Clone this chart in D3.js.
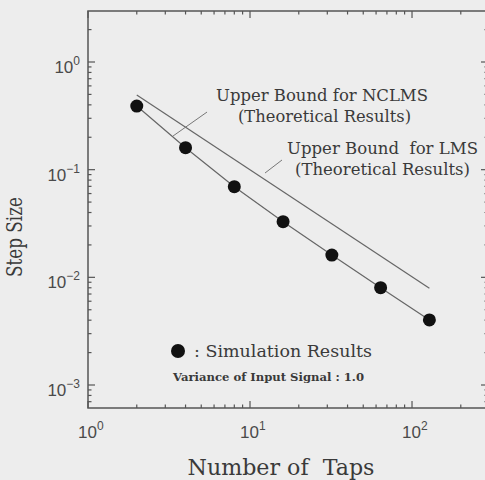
<html lang="en">
<head>
    <meta charset="UTF-8">
    <title>Step Size vs Number of Taps</title>
    <script src="https://d3js.org/d3.v7.min.js"></script>
    <style>
        body { margin: 0; background-color: #ededed; }
        svg { background-color: #ededed; display: block; }
        .serif { font-family: "DejaVu Serif", serif; fill: #3a3a3a; }
        .tick-label { font-family: "Liberation Sans", Arial, sans-serif; fill: #4a4a4a; font-size: 17px; }
    </style>
</head>
<body>
    <script>
        // simulation results
        const taps = [2, 4, 8, 16, 32, 64, 128];
        const stepSize = [0.390, 0.160, 0.0695, 0.0329, 0.0161, 0.00801, 0.00402];

        // theoretical upper bound line (straight on log-log)
        const boundTaps = [2, 128];
        const boundStep = [0.494, 0.0079];

        const xTickExp = [0, 1, 2];
        const yTickExp = [0, -1, -2, -3];

        const w = 485;
        const h = 480;

        const xScale = d3.scaleLog()
            .domain([1, Math.pow(10, 2.469)])
            .range([88, 488]);

        const yScale = d3.scaleLog()
            .domain([Math.pow(10, -3.2136), Math.pow(10, 0.4737)])
            .range([408, 11]);

        const svg = d3.select('body')
            .append('svg')
            .attr('width', w)
            .attr('height', h);

        const axisColor = '#555';

        // frame
        const [x0, x1] = xScale.range();
        const [y0, y1] = yScale.range();
        svg.append('rect')
            .attr('x', x0)
            .attr('y', y1)
            .attr('width', x1 - x0)
            .attr('height', y0 - y1)
            .attr('fill', 'none')
            .attr('stroke', axisColor)
            .attr('stroke-width', 1.5);

        // ticks (all pointing inwards)
        const xMajor = xTickExp.map(e => Math.pow(10, e));
        const xMinor = [];
        [1, 10, 100].forEach(d => d3.range(2, 10).forEach(m => { if (d * m < xScale.domain()[1]) xMinor.push(d * m); }));
        const yMajor = yTickExp.map(e => Math.pow(10, e));
        const yMinor = [];
        [0.0001, 0.001, 0.01, 0.1, 1].forEach(d => d3.range(2, 10).forEach(m => {
            const v = d * m;
            if (v > yScale.domain()[0] && v < yScale.domain()[1]) yMinor.push(v);
        }));

        const ticks = svg.append('g').attr('stroke', axisColor).attr('stroke-width', 1.2);
        [[xMajor, 7], [xMinor, 3.5]].forEach(([vals, len]) => {
            vals.forEach(v => {
                const x = xScale(v);
                ticks.append('line').attr('x1', x).attr('x2', x).attr('y1', y0).attr('y2', y0 - len);
                ticks.append('line').attr('x1', x).attr('x2', x).attr('y1', y1).attr('y2', y1 + len);
            });
        });
        [[yMajor, 7], [yMinor, 3.5]].forEach(([vals, len]) => {
            vals.forEach(v => {
                const y = yScale(v);
                ticks.append('line').attr('x1', x0).attr('x2', x0 + len).attr('y1', y).attr('y2', y);
                ticks.append('line').attr('x1', x1).attr('x2', x1 - len).attr('y1', y).attr('y2', y);
            });
        });

        // tick labels
        xTickExp.forEach(e => {
            const t = svg.append('text')
                .attr('class', 'tick-label')
                .attr('x', xScale(Math.pow(10, e)) - 10)
                .attr('y', 438);
            t.append('tspan').text('10');
            t.append('tspan').attr('dy', -8).style('font-size', '12px').text(e < 0 ? '\u2212' + (-e) : e);
        });
        yTickExp.forEach(e => {
            const t = svg.append('text')
                .attr('class', 'tick-label')
                .attr('text-anchor', 'end')
                .attr('x', 80)
                .attr('y', yScale(Math.pow(10, e)) + 11);
            t.append('tspan').text('10');
            t.append('tspan').attr('dy', -8).style('font-size', '12px').text(e < 0 ? '\u2212' + (-e) : e);
        });

        // axis titles
        svg.append('text')
            .attr('class', 'serif')
            .attr('x', 281)
            .attr('y', 475)
            .attr('text-anchor', 'middle')
            .attr('xml:space', 'preserve')
            .style('white-space', 'pre')
            .style('font-size', '22px')
            .attr('textLength', 187)
            .attr('lengthAdjust', 'spacingAndGlyphs')
            .text('Number of  Taps');

        svg.append('text')
            .attr('class', 'serif')
            .attr('transform', 'translate(22,237) rotate(-90)')
            .attr('text-anchor', 'middle')
            .style('font-size', '22px')
            .attr('textLength', 80)
            .attr('lengthAdjust', 'spacingAndGlyphs')
            .text('Step Size');

        // lines
        const line = d3.line()
            .x(d => xScale(d[0]))
            .y(d => yScale(d[1]));

        svg.append('path')
            .datum(d3.zip(boundTaps, boundStep))
            .attr('d', line)
            .attr('fill', 'none')
            .attr('stroke', '#666')
            .attr('stroke-width', 1.2);

        svg.append('path')
            .datum(d3.zip(taps, stepSize))
            .attr('d', line)
            .attr('fill', 'none')
            .attr('stroke', '#666')
            .attr('stroke-width', 1.2);

        // annotation leaders
        const leaders = [
            [[3.35, 0.2055], [5.43, 0.343]],
            [[12.38, 0.0931], [15.76, 0.123]]
        ];
        leaders.forEach(l => {
            svg.append('path')
                .datum(l)
                .attr('d', line)
                .attr('stroke', '#777')
                .attr('stroke-width', 1);
        });

        // simulation points
        svg.selectAll('circle.dot')
            .data(d3.zip(taps, stepSize))
            .enter()
            .append('circle')
            .attr('class', 'dot')
            .attr('cx', d => xScale(d[0]))
            .attr('cy', d => yScale(d[1]))
            .attr('r', 6.5)
            .attr('fill', '#111');

        // annotation texts
        const notes = [
            { text: 'Upper Bound for NCLMS', x: 216, y: 101, len: 212 },
            { text: '(Theoretical Results)', x: 238, y: 122, len: 173 },
            { text: 'Upper Bound  for LMS', x: 287, y: 154, len: 191 },
            { text: '(Theoretical Results)', x: 295, y: 175, len: 175 }
        ];
        notes.forEach(n => {
            svg.append('text')
                .attr('class', 'serif')
                .attr('x', n.x)
                .attr('y', n.y)
                .attr('xml:space', 'preserve')
                .style('white-space', 'pre')
                .style('font-size', '16.5px')
                .attr('textLength', n.len)
                .attr('lengthAdjust', 'spacingAndGlyphs')
                .text(n.text);
        });

        // legend
        svg.append('circle')
            .attr('cx', 178)
            .attr('cy', 351)
            .attr('r', 7)
            .attr('fill', '#111');
        svg.append('text')
            .attr('class', 'serif')
            .attr('x', 194)
            .attr('y', 357)
            .style('font-size', '16.5px')
            .attr('textLength', 178)
            .attr('lengthAdjust', 'spacingAndGlyphs')
            .text(': Simulation Results');
        svg.append('text')
            .attr('class', 'serif')
            .attr('x', 173)
            .attr('y', 381)
            .style('font-size', '10.5px')
            .style('font-weight', 'bold')
            .attr('textLength', 191)
            .attr('lengthAdjust', 'spacingAndGlyphs')
            .text('Variance of Input Signal : 1.0');
    </script>
</body>
</html>
